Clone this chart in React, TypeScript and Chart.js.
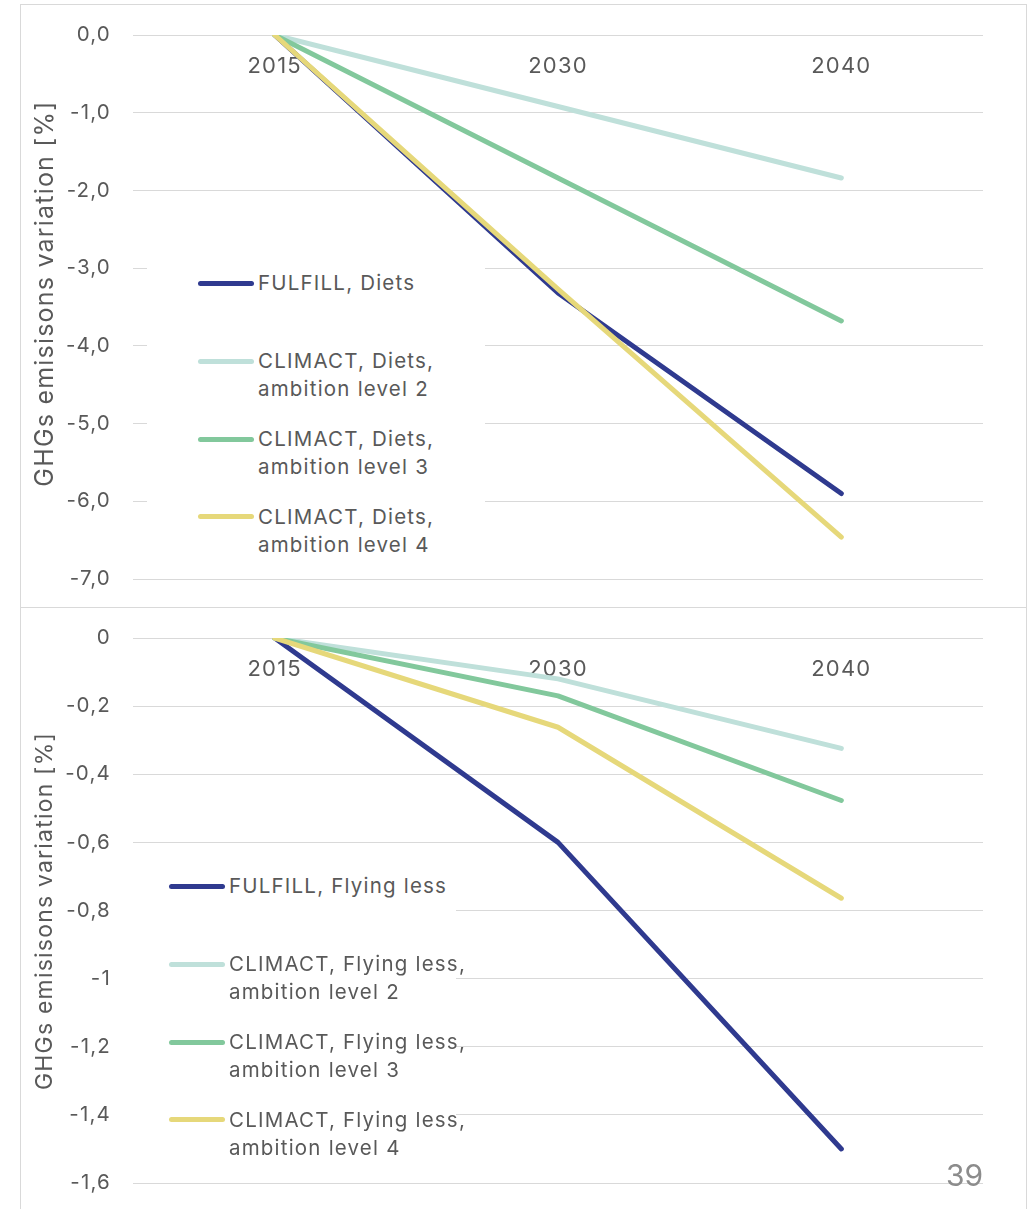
import React, { useEffect, useRef } from 'react';
import { Chart, registerables } from 'chart.js';

Chart.register(...registerables);

const years = ['2015', '2030', '2040'];

const dietsFulfill = [0, -3.32, -5.9];
const dietsClimact2 = [0, -0.92, -1.84];
const dietsClimact3 = [0, -1.84, -3.68];
const dietsClimact4 = [0, -3.27, -6.46];

const flyFulfill = [0, -0.6, -1.5];
const flyClimact2 = [0, -0.12, -0.324];
const flyClimact3 = [0, -0.17, -0.477];
const flyClimact4 = [0, -0.262, -0.764];

const dietsLabels = [
  ['FULFILL, Diets'],
  ['CLIMACT, Diets,', 'ambition level 2'],
  ['CLIMACT, Diets,', 'ambition level 3'],
  ['CLIMACT, Diets,', 'ambition level 4'],
];
const flyLabels = [
  ['FULFILL, Flying less'],
  ['CLIMACT, Flying less,', 'ambition level 2'],
  ['CLIMACT, Flying less,', 'ambition level 3'],
  ['CLIMACT, Flying less,', 'ambition level 4'],
];

const colors = ['#2f3a8f', '#bfe0da', '#82c89c', '#e6d87a'];
const yTitle = 'GHGs emisisons variation [%]';
const pageNumber = '39';

const FONT = 'Inter, "Noto Sans", sans-serif';
const TEXT = '#595959';
const GRID = '#d9d9d9';
const SPACING = '1.2px';

const fmtTop = (v: number) => Number(v).toFixed(1).replace('.', ',');
const fmtBottom = (v: number) => {
  const r = Math.round(Number(v) * 10) / 10;
  return (r === 0 ? '0' : String(r)).replace('.', ',');
};

const spacingPlugin = {
  id: 'letterSpacing',
  beforeLayout(chart: any) {
    chart.ctx.letterSpacing = SPACING;
  },
  beforeDraw(chart: any) {
    chart.ctx.letterSpacing = SPACING;
  },
};

// Side (y axis) title drawn at a chosen centre, rotated like an axis title
const sideTitlePlugin = {
  id: 'sideTitle',
  afterDraw(chart: any, _args: any, opts: any) {
    if (!opts || !opts.text) return;
    const ctx = chart.ctx;
    ctx.save();
    ctx.font = `${opts.size}px ${FONT}`;
    ctx.fillStyle = TEXT;
    ctx.letterSpacing = SPACING;
    ctx.translate(opts.x, opts.y);
    ctx.rotate(-Math.PI / 2);
    ctx.textAlign = 'center';
    ctx.textBaseline = 'middle';
    ctx.fillText(opts.text, 0, 0);
    ctx.restore();
  },
};

type PanelProps = {
  series: number[][];
  labels: string[][];
  yMin: number;
  yMax: number;
  yStep: number;
  fmt: (v: number) => string;
  legendX: number;
  boxTop: number;
  boxHeight: number;
  titleSize: number;
  titleX: number;
  titleY: number;
  padBottom: number;
};

const CW = 1005;
const CH = 602;
const itemCenters = [278.3, 356, 434.3, 511.7];

function Panel(p: PanelProps) {
  const ref = useRef<HTMLCanvasElement | null>(null);
  useEffect(() => {
    if (!ref.current) return;
    Chart.defaults.font.family = FONT;
    const chart = new Chart(ref.current, {
      type: 'line',
      data: {
        labels: years,
        datasets: p.series.map((s, i) => ({
          label: p.labels[i].join(' '),
          data: s,
          borderColor: colors[i],
          backgroundColor: colors[i],
          borderWidth: 5,
          borderCapStyle: 'round',
          borderJoinStyle: 'round',
          pointRadius: 0,
          tension: 0,
          order: 4 - i,
        })),
      },
      plugins: [spacingPlugin, sideTitlePlugin],
      options: {
        animation: false,
        responsive: false,
        maintainAspectRatio: false,
        layout: { padding: { left: 0, right: 43, top: 30, bottom: p.padBottom } },
        plugins: {
          legend: { display: false },
          tooltip: { enabled: false },
          sideTitle: { text: yTitle, size: p.titleSize, x: p.titleX, y: p.titleY },
        },
        scales: {
          x: {
            type: 'category',
            position: { y: 0 } as any,
            offset: true,
            z: 1,
            grid: { display: false, drawTicks: false },
            border: { display: false },
            ticks: { color: TEXT, font: { size: 22 }, padding: 18, maxRotation: 0 },
          },
          y: {
            min: p.yMin,
            max: p.yMax,
            afterFit: (scale: any) => {
              scale.width = 112;
            },
            ticks: {
              stepSize: p.yStep,
              color: TEXT,
              font: { size: 20.5 },
              padding: 0,
              callback: (v: any) => p.fmt(Number(v)),
            },
            grid: {
              color: GRID,
              lineWidth: 1,
              drawTicks: true,
              tickLength: 22,
              tickColor: 'rgba(0,0,0,0)',
            },
            border: { display: false },
            title: { display: false },
          },
        },
      },
    } as any);
    return () => chart.destroy();
  }, []);

  return (
    <div
      style={{
        position: 'absolute',
        left: 20,
        top: p.boxTop,
        width: CW,
        height: p.boxHeight,
        border: '1px solid ' + GRID,
        background: '#fff',
      }}
    >
      <canvas ref={ref} width={CW} height={CH} style={{ position: 'absolute', left: 0, top: 0, width: CW, height: CH }} />
      <div
        style={{
          position: 'absolute',
          left: p.legendX - 51,
          top: 245,
          width: 338,
          height: 315,
          background: '#fff',
        }}
      />
      {p.labels.map((lines, i) => (
        <div key={i}>
          <div
            style={{
              position: 'absolute',
              left: p.legendX,
              top: itemCenters[i] - 2.5,
              width: 56,
              height: 5,
              borderRadius: 3,
              background: colors[i],
            }}
          />
          <div
            style={{
              position: 'absolute',
              left: p.legendX + 60,
              top: itemCenters[i] - 14,
              fontFamily: FONT,
              fontSize: 20.5,
              letterSpacing: SPACING,
              lineHeight: '28px',
              color: TEXT,
              whiteSpace: 'nowrap',
            }}
          >
            {lines.map((l, j) => (
              <div key={j}>{l}</div>
            ))}
          </div>
        </div>
      ))}
    </div>
  );
}

export default function App() {
  return (
    <div
      style={{
        position: 'absolute',
        left: 0,
        top: 0,
        width: 1031,
        height: 1209,
        overflow: 'hidden',
        background: '#fff',
      }}
    >
      <Panel
        series={[dietsFulfill, dietsClimact2, dietsClimact3, dietsClimact4]}
        labels={dietsLabels}
        yMin={-7}
        yMax={0}
        yStep={1}
        fmt={fmtTop}
        legendX={177}
        boxTop={4}
        boxHeight={602}
        titleSize={25}
        titleX={24}
        titleY={288.5}
        padBottom={28}
      />
      <Panel
        series={[flyFulfill, flyClimact2, flyClimact3, flyClimact4]}
        labels={flyLabels}
        yMin={-1.6}
        yMax={0}
        yStep={0.2}
        fmt={fmtBottom}
        legendX={148}
        boxTop={607}
        boxHeight={620}
        titleSize={23}
        titleX={24}
        titleY={303}
        padBottom={27}
      />
      <div
        style={{
          position: 'absolute',
          left: 946,
          top: 1157,
          fontFamily: FONT,
          fontSize: 30,
          lineHeight: '36px',
          color: '#8c8c8c',
        }}
      >
        {pageNumber}
      </div>
    </div>
  );
}
